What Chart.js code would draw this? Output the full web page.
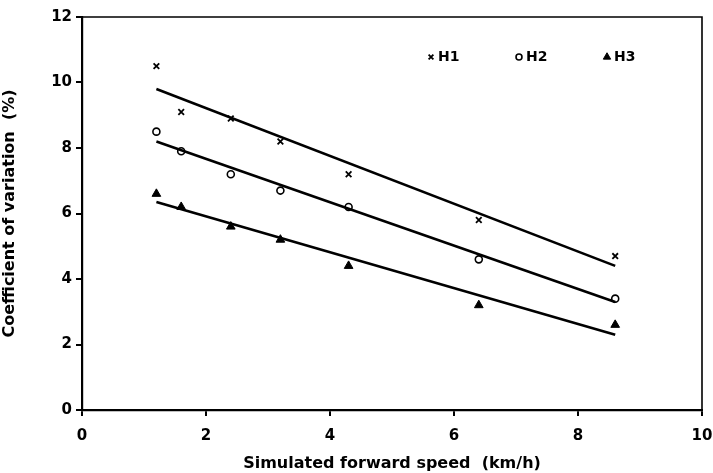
<!DOCTYPE html>
<html>
<head>
<meta charset="utf-8">
<script src="https://cdn.jsdelivr.net/npm/chart.js@4.4.1/dist/chart.umd.min.js"></script>
<style>
  html, body { margin: 0; padding: 0; background: #fff; }
  #wrap { width: 713px; height: 473px; }
</style>
</head>
<body>
<div id="wrap"><canvas id="chart-cv"></canvas></div>
<script>
// velocidades simuladas (km/h)
const speeds = [1.2, 1.6, 2.4, 3.2, 4.3, 6.4, 8.6];
// coeficiente de variação (%) por série
const h1 = [10.5, 9.1, 8.9, 8.2, 7.2, 5.8, 4.7];
const h2 = [8.5, 7.9, 7.2, 6.7, 6.2, 4.6, 3.4];
const h3 = [6.6, 6.2, 5.6, 5.2, 4.4, 3.2, 2.6];
// retas de tendência (inicio e fim)
const trendX = [1.2, 8.6];
const trendH1 = [9.8, 4.4];
const trendH2 = [8.2, 3.3];
const trendH3 = [6.35, 2.3];
const seriesLabels = ["H1", "H2", "H3"];
const xTicks = [0, 2, 4, 6, 8, 10];
const yTicks = [0, 2, 4, 6, 8, 10, 12];

const toPts = (xs, ys) => xs.map((x, i) => ({ x, y: ys[i] }));

const fontFamily = "'DejaVu Sans', 'Liberation Sans', sans-serif";

const markers = [
  { style: "crossRot", radius: 4, bg: "#000", border: 1.8 },
  { style: "circle", radius: 3.5, bg: "#fff", border: 1.6 },
  { style: "triangle", radius: 5, bg: "#000", border: 1 },
];

const pointSets = [h1, h2, h3].map((ys, i) => ({
  type: "scatter",
  label: seriesLabels[i],
  data: toPts(speeds, ys),
  pointStyle: markers[i].style,
  pointRadius: markers[i].radius,
  pointBackgroundColor: markers[i].bg,
  pointBorderColor: "#000",
  pointBorderWidth: markers[i].border,
  showLine: false,
}));

const trendSets = [trendH1, trendH2, trendH3].map((ys) => ({
  type: "line",
  label: "",
  data: toPts(trendX, ys),
  borderColor: "#000",
  borderWidth: 2.6,
  pointRadius: 0,
  fill: false,
}));

// moldura + legenda dentro do grafico
const framePlugin = {
  id: "frame",
  afterDraw(chart) {
    const { ctx, chartArea: a } = chart;
    ctx.save();
    ctx.strokeStyle = "#000";
    ctx.lineWidth = 1.6;
    ctx.beginPath();
    ctx.moveTo(a.left, a.top);
    ctx.lineTo(a.right, a.top);
    ctx.lineTo(a.right, a.bottom);
    ctx.stroke();

    // legenda
    const legendX = [431, 519, 607];
    const ly = 57;
    ctx.font = "bold 14px " + fontFamily;
    ctx.textBaseline = "middle";
    seriesLabels.forEach((lbl, i) => {
      const m = markers[i];
      ctx.fillStyle = m.bg;
      ctx.strokeStyle = "#000";
      ctx.lineWidth = m.border;
      Chart.helpers.drawPoint(ctx, { pointStyle: m.style, radius: m.radius * 0.85, borderWidth: m.border }, legendX[i], ly);
      ctx.fillStyle = "#000";
      ctx.fillText(lbl, legendX[i] + 7, ly);
    });
    ctx.restore();
  },
};

new Chart(document.getElementById("chart-cv").getContext("2d"), {
  data: { datasets: [...trendSets, ...pointSets] },
  options: {
    responsive: true,
    maintainAspectRatio: false,
    animation: false,
    layout: { padding: { top: 17, right: 11, left: 0, bottom: 0 } },
    plugins: {
      legend: { display: false },
      tooltip: { enabled: false },
    },
    scales: {
      x: {
        type: "linear",
        min: 0,
        max: 10,
        afterBuildTicks: (s) => { s.ticks = xTicks.map((v) => ({ value: v })); },
        grid: { drawOnChartArea: false, drawTicks: true, tickLength: 6, color: "#000", lineWidth: 2 },
        border: { display: true, color: "#000", width: 2.2 },
        ticks: { color: "#000", font: { family: fontFamily, size: 15, weight: "bold" }, padding: 11 },
        title: {
          display: true,
          text: "Simulated forward speed  (km/h)",
          color: "#000",
          font: { family: fontFamily, size: 16, weight: "bold" },
          padding: { top: 6, bottom: 0 },
        },
        afterFit: (s) => {
          s.height = 63;
          s.paddingLeft = 0;
          s.paddingRight = 0;
        },
      },
      y: {
        type: "linear",
        min: 0,
        max: 12,
        afterBuildTicks: (s) => { s.ticks = yTicks.map((v) => ({ value: v })); },
        grid: { drawOnChartArea: false, drawTicks: true, tickLength: 6, color: "#000", lineWidth: 2 },
        border: { display: true, color: "#000", width: 2.2 },
        ticks: { color: "#000", font: { family: fontFamily, size: 15, weight: "bold" }, padding: 4 },
        title: {
          display: true,
          text: "Coefficient of variation  (%)",
          color: "#000",
          font: { family: fontFamily, size: 16, weight: "bold" },
          padding: { top: 0, bottom: 20 },
        },
        afterFit: (s) => {
          s.width = 82;
          s.paddingTop = 0;
          s.paddingBottom = 0;
        },
      },
    },
  },
  plugins: [framePlugin],
});
</script>
</body>
</html>
